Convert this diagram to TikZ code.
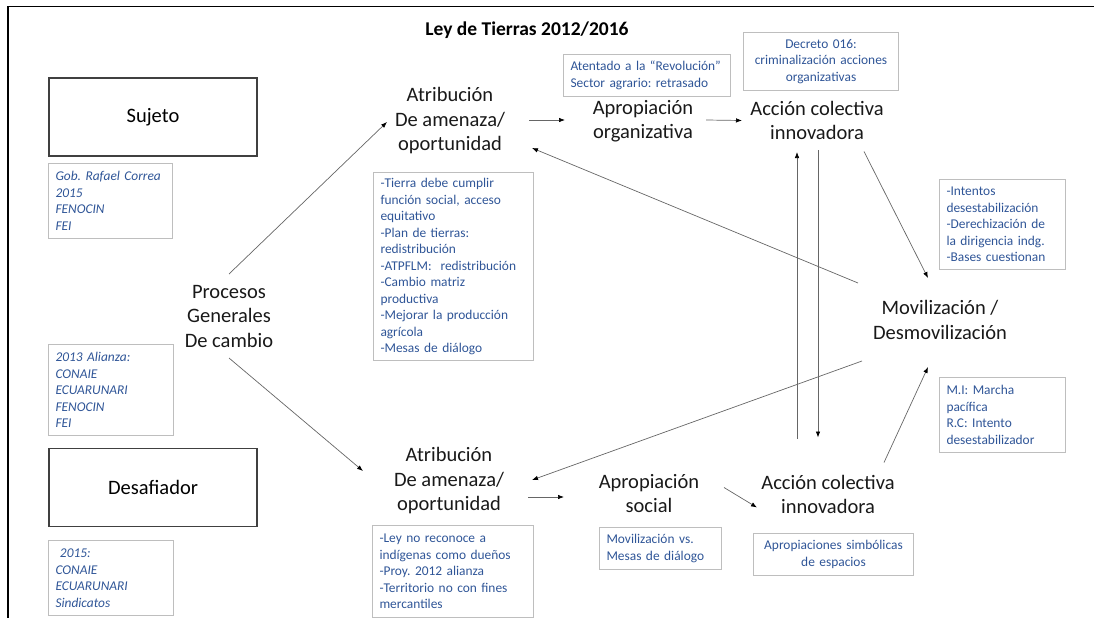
\documentclass[tikz,border=0pt]{standalone}
\usepackage{fontspec}
\setmainfont{Carlito}
\usetikzlibrary{arrows.meta,calc}
\definecolor{azulnota}{RGB}{47,85,151}
\definecolor{grisnota}{RGB}{190,190,190}

\begin{document}
\begin{tikzpicture}[x=1pt,y=-1pt,
    etiq/.style={align=center,font=\fontsize{20.5}{24.5}\selectfont,text=black!90,inner sep=0pt},
    caja/.style={draw=black!75,line width=1.3pt,minimum width=208pt,minimum height=78pt,font=\fontsize{20.5}{24.5}\selectfont},
    nota/.style={draw=grisnota,line width=1pt,text=azulnota,anchor=north west,align=left,inner xsep=7pt,inner ysep=3pt,
        font=\fontsize{13.4}{16.5}\selectfont,execute at begin node={\hyphenpenalty=10000\frenchspacing}},
    flecha/.style={draw=black!60,line width=0.7pt,-{Latex[length=6pt,width=4.5pt,color=black]}}]
            \useasboundingbox (0,0) rectangle (1094,618);
            \draw[line width=1.5pt] (1094,6.5) -| (8,618);
            \node[font=\fontsize{19.5}{22}\selectfont\bfseries] (titulo) at (527,30) {Ley de Tierras 2012/2016};
            % sujeto / desafiador
            \node[caja] (suj) at (153,117) {Sujeto};
            \node[caja] (des) at (153,487.5) {Desafiador};
            \node[nota,text width=110pt,minimum height=75pt,font=\fontsize{13.4}{16.5}\selectfont\itshape] (gob) at (48,163) {Gob.~Rafael~Correa\\2015\\FENOCIN\\FEI};
            \node[nota,text width=111pt,minimum height=91pt,font=\fontsize{13.4}{16.5}\selectfont\itshape] (ali) at (48,344) {2013 Alianza:\\CONAIE\\ECUARUNARI\\FENOCIN\\FEI};
            \node[nota,text width=111pt,minimum height=75pt,font=\fontsize{13.4}{16.5}\selectfont\itshape] (a15) at (48,540) {\ 2015:\\CONAIE\\ECUARUNARI\\Sindicatos};
            \node[etiq] (proc) at (229,316) {Procesos\\Generales\\De cambio};
            % fila de arriba
            \node[etiq] (atrA) at (450,121) {Atribución\\De amenaza/\\oportunidad};
            \node[etiq] (aporg) at (643,121) {Apropiación\\organizativa};
            \node[etiq] (accA) at (817,120.5) {Acción colectiva\\innovadora};
            \node[nota,text width=153pt,minimum height=42pt] (atent) at (563,54) {Atentado~a~la~“Revolución”\\Sector~agrario:~retrasado};
            \node[nota,text width=141pt,minimum height=58pt,align=center] (decr) at (743,32) {Decreto 016:\\criminalización~acciones\\organizativas};
            \node[nota,text width=146pt,minimum height=188pt] (tierra) at (373,172) {-Tierra debe cumplir\\función social, acceso\\equitativo\\-Plan de tierras:\\redistribución\\-ATPFLM:\ \ redistribución\\-Cambio matriz\\productiva\\-Mejorar la producción\\agrícola\\-Mesas de diálogo};
            % centro derecha
            \node[etiq] (mov) at (940,320) {Movilización /\\Desmovilización};
            \node[nota,text width=112pt,minimum height=90pt] (intent) at (939,179) {-Intentos\\desestabilización\\-Derechización de\\la dirigencia indg.\\-Bases cuestionan};
            \node[nota,text width=112pt,minimum height=75pt] (mi) at (939,377) {M.I:~Marcha\\pacífica\\R.C:~Intento\\desestabilizador};
            % fila de abajo
            \node[etiq] (atrB) at (449,481) {Atribución\\De amenaza/\\oportunidad};
            \node[etiq] (apsoc) at (649,493.5) {Apropiación\\social};
            \node[etiq] (accB) at (828,494.5) {Acción colectiva\\innovadora};
            \node[nota,text width=147pt,minimum height=92pt] (ley) at (372,525) {-Ley no reconoce a\\indígenas~como~dueños\\-Proy. 2012 alianza\\-Territorio~no~con~fines\\mercantiles};
            \node[nota,text width=108pt,minimum height=42pt] (movvs) at (599,527) {Movilización vs.\\Mesas de diálogo};
            \node[nota,text width=146pt,minimum height=42pt,align=center] (aprsim) at (753,533) {Apropiaciones~simbólicas\\de espacios};
            % flechas
            \draw[flecha] ($(proc)+(0,-42)$) -- ($(atrA)+(-63,1)$);
            \draw[flecha] ($(proc)+(0,42)$) -- ($(atrB)+(-86,-10)$);
            \draw[flecha] ($(atrA)+(79,-1)$) -- ($(aporg)+(-78,-1)$);
            \draw[flecha] ($(aporg)+(63,-1)$) -- ($(accA)+(-75,0)$);
            \draw[flecha] ($(accA)+(47,31)$) -- ($(mov)+(-12,-42)$);
            \draw[flecha] ($(mov)+(-82,-37)$) -- ($(atrA)+(82,27)$);
            \draw[flecha] ($(mov)+(-78,41)$) -- ($(atrB)+(83,-1)$);
            \draw[flecha] ($(accB)+(-31,-56)$) -- ($(accA)+(-20,31.5)$);
            \draw[flecha] ($(accA)+(1,29.5)$) -- ($(accB)+(-10,-57)$);
            \draw[flecha] ($(accB)+(56,-32)$) -- ($(mov)+(-12,47)$);
            \draw[flecha] ($(atrB)+(79,16)$) -- ($(apsoc)+(-85,3.5)$);
            \draw[flecha] ($(apsoc)+(75,-6)$) -- ($(accB)+(-71,13)$);
        \end{tikzpicture}
\end{document}
